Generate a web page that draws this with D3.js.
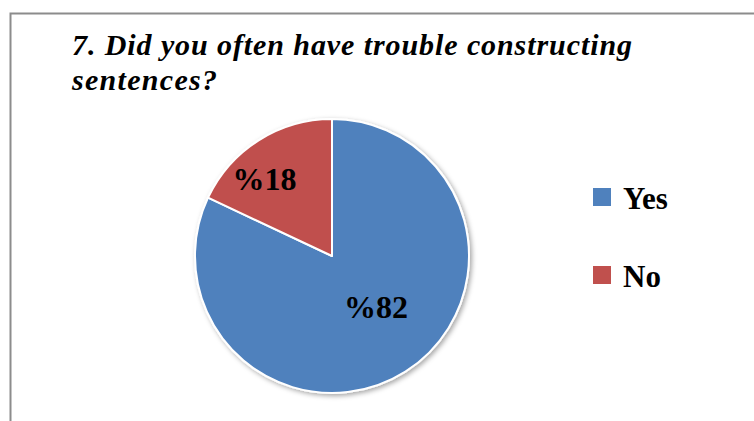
<!DOCTYPE html>
<html>
<head>
<meta charset="utf-8">
<script src="https://cdn.jsdelivr.net/npm/d3@7"></script>
<style>
  html, body { margin: 0; padding: 0; background: #fff; }
  svg { display: block; }
  text { font-family: "Liberation Serif", Tinos, "Times New Roman", Times, "Nimbus Roman", serif; }
</style>
</head>
<body>
<div id="chart"></div>
<script>
// Survey answers for question 7
const categories = ["Yes", "No"];
const values = [82, 18];
const labels = ["%82", "%18"];
const colors = ["#4F81BD", "#C0504D"];
const titleLines = ["7. Did you often have trouble constructing", "sentences?"];

const W = 754, H = 421;
const svg = d3.select("#chart").append("svg")
  .attr("width", W).attr("height", H);

// Soft shadow under the pie
const defs = svg.append("defs");
const f = defs.append("filter").attr("id", "shadow")
  .attr("x", "-20%").attr("y", "-20%").attr("width", "140%").attr("height", "140%");
f.append("feDropShadow").attr("dx", 2).attr("dy", 2).attr("stdDeviation", 2.5)
  .attr("flood-color", "#000").attr("flood-opacity", 0.35);

// Chart frame
svg.append("rect")
  .attr("x", 10.5).attr("y", 13.5).attr("width", 800).attr("height", 500)
  .attr("fill", "#fff").attr("stroke", "#8c8c8c").attr("stroke-width", 2);

// Title, stretched to the width of the heading block
const titleWidths = [560, 145];
const title = svg.append("text")
  .attr("font-size", 30).attr("font-weight", "bold").attr("font-style", "italic")
  .attr("fill", "#000");
titleLines.forEach((t, i) => {
  title.append("tspan").attr("x", 72).attr("y", 55 + i * 35)
    .attr("textLength", titleWidths[i]).attr("lengthAdjust", "spacing")
    .text(t);
});

// Pie
const cx = 332, cy = 256, r = 137;
const pie = d3.pie().sort(null).value(d => d)(values);
const arc = d3.arc().innerRadius(0).outerRadius(r);

const g = svg.append("g").attr("transform", `translate(${cx},${cy})`);
g.append("g").attr("filter", "url(#shadow)")
  .selectAll("path").data(pie).join("path")
  .attr("d", arc)
  .attr("fill", (d, i) => colors[i])
  .attr("stroke", "#fff").attr("stroke-width", 2)
  .attr("stroke-linejoin", "round");

// Value labels: best-fit placement inside each slice (radius fraction, angle shift)
const labelFit = [{ k: 0.49, da: -0.15 }, { k: 0.75, da: -0.15 }];
g.selectAll("text.val").data(pie).join("text")
  .attr("class", "val")
  .attr("transform", (d, i) => {
    const a = (d.startAngle + d.endAngle) / 2 + labelFit[i].da;
    const rr = r * labelFit[i].k;
    return `translate(${rr * Math.sin(a)},${-rr * Math.cos(a)})`;
  })
  .attr("text-anchor", "middle").attr("dy", "0.35em")
  .attr("font-size", 32).attr("font-weight", "bold")
  .attr("fill", "#000")
  .text((d, i) => labels[i]);

// Legend
const legend = svg.append("g").attr("transform", "translate(593,188)");
const item = legend.selectAll("g").data(categories).join("g")
  .attr("transform", (d, i) => `translate(0,${i * 78})`);
item.append("rect")
  .attr("width", 18).attr("height", 18)
  .attr("fill", (d, i) => colors[i]);
item.append("text")
  .attr("x", 30).attr("y", 21)
  .attr("font-size", 31).attr("font-weight", "bold")
  .attr("fill", "#000")
  .text(d => d);
</script>
</body>
</html>
